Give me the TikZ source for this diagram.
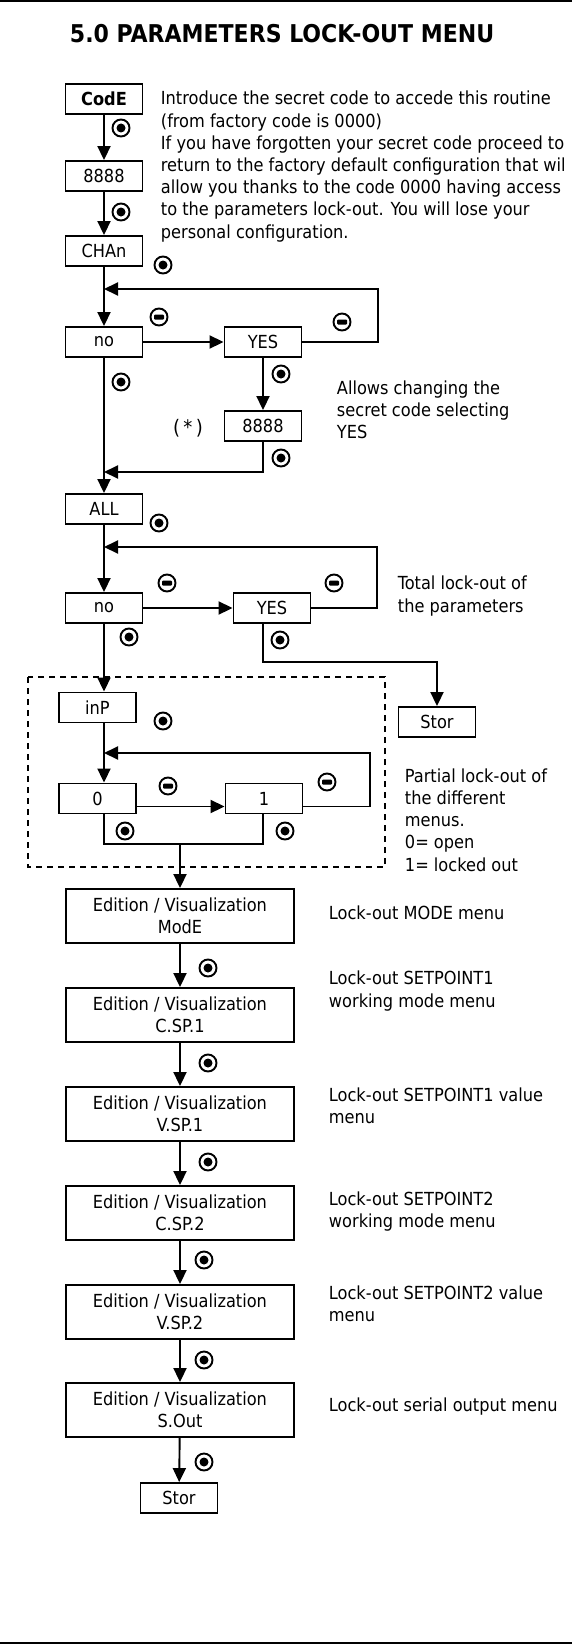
\documentclass[tikz,border=0pt]{standalone}
\usepackage{fontspec}
\setmainfont{DejaVu Sans Condensed}
\usetikzlibrary{arrows.meta}

\begin{document}
\begin{tikzpicture}[x=1pt, y=-1pt, line width=1.9pt,
    >={Triangle[length=14pt,width=13pt]},
    every node/.style={font=\fontsize{18}{22.2}\selectfont},
    menu/.style={rectangle, draw, minimum width=77pt, minimum height=30pt, inner sep=0pt},
    edit/.style={rectangle, draw, minimum width=228pt, minimum height=54pt, inner sep=0pt, align=center},
    note/.style={anchor=west, inner sep=0pt, align=left},
    okkey/.style={circle, draw, minimum size=17pt, inner sep=0pt,
      path picture={\fill (path picture bounding box.center) circle (4.5pt);}},
    esckey/.style={circle, draw, minimum size=17pt, inner sep=0pt,
      path picture={\fill[rounded corners=1pt] ([shift={(-5pt,-2.5pt)}]path picture bounding box.center) rectangle ([shift={(5pt,2.5pt)}]path picture bounding box.center);}}
    ]
\useasboundingbox (0,0) rectangle (572,1651);
\draw (0,1) -- (572,1);
\draw (0,1643) -- (572,1643);

\node[anchor=west, inner sep=0pt, font=\fontsize{24.5}{28}\selectfont\bfseries] (title) at (69,34) {5.0 PARAMETERS LOCK-OUT MENU};

\node[menu, font=\fontsize{18}{22.2}\selectfont\bfseries] (code) at (104,99) {CodE};
\node[menu] (num1) at (104,176) {8888};
\node[menu] (chan) at (104,251) {CHAn};
\node[menu] (no1) at (104,342) {no};
\node[menu] (yes1) at (263,342) {YES};
\node[menu] (num2) at (263,426) {8888};
\node[menu] (all) at (104,509) {ALL};
\node[menu] (no2) at (104,608) {no};
\node[menu] (yes2) at (272,608) {YES};
\node[menu] (stor1) at (437,722) {Stor};
\node[menu] (inp) at (97.5,707.5) {inP};
\node[menu] (zero) at (97.5,798.5) {0};
\node[menu] (one) at (264,798.5) {1};

\node[edit] (ed1) at (180,916) {Edition / Visualization\\ModE};
\node[edit] (ed2) at (180,1015) {Edition / Visualization\\C.SP.1};
\node[edit] (ed3) at (180,1114) {Edition / Visualization\\V.SP.1};
\node[edit] (ed4) at (180,1213) {Edition / Visualization\\C.SP.2};
\node[edit] (ed5) at (180,1312) {Edition / Visualization\\V.SP.2};
\node[edit] (ed6) at (180,1410) {Edition / Visualization\\S.Out};
\node[menu] (stor2) at (179,1498) {Stor};

\node[note] (intro) at (160,166.5) {Introduce the secret code to accede this routine\\(from factory code is 0000)\\If you have forgotten your secret code proceed to\\return to the factory default configuration that wil\\allow you thanks to the code 0000 having access\\to the parameters lock-out. You will lose your\\personal configuration.};
\node[font=\fontsize{20}{24}\selectfont] (star) at (188,428) {(\,*\,)};
\node[note] (allows) at (336,409.5) {Allows changing the\\secret code selecting\\YES};
\node[note] (total) at (397,596) {Total lock-out of\\the parameters};
\node[note] (partial) at (404,820) {Partial lock-out of\\the different\\menus.\\0= open\\1= locked out};
\node[note] (lab1) at (328,913) {Lock-out MODE menu};
\node[note] (lab2) at (328,991) {Lock-out SETPOINT1\\working mode menu};
\node[note] (lab3) at (328,1105.5) {Lock-out SETPOINT1 value\\menu};
\node[note] (lab4) at (328,1211.5) {Lock-out SETPOINT2\\working mode menu};
\node[note] (lab5) at (328,1303.5) {Lock-out SETPOINT2 value\\menu};
\node[note] (lab6) at (328,1407) {Lock-out serial output menu};

\node[okkey] (k1) at (121,128) {};
\node[okkey] (k2) at (121,212) {};
\node[okkey] (k3) at (163,265) {};
\node[okkey] (k4) at (121,382) {};
\node[okkey] (k5) at (281,374) {};
\node[okkey] (k6) at (281,458) {};
\node[okkey] (k7) at (159,523) {};
\node[okkey] (k8) at (129,637) {};
\node[okkey] (k9) at (280,640) {};
\node[okkey] (k10) at (163,721) {};
\node[okkey] (k11) at (125,831) {};
\node[okkey] (k12) at (285,831) {};
\node[okkey] (k13) at (208,968) {};
\node[okkey] (k14) at (208,1063) {};
\node[okkey] (k15) at (208,1162) {};
\node[okkey] (k16) at (204,1260) {};
\node[okkey] (k17) at (204,1360) {};
\node[okkey] (k18) at (204,1462) {};
\node[esckey] (e1) at (159,317) {};
\node[esckey] (e2) at (342,322) {};
\node[esckey] (e3) at (167,583) {};
\node[esckey] (e4) at (334,583) {};
\node[esckey] (e5) at (168,786) {};
\node[esckey] (e6) at (327,782) {};

\draw[dash pattern=on 6pt off 5pt] (28,677) rectangle (385,867);

\coordinate (r1) at (378,289);
\coordinate (m1) at (104,289);
\coordinate (m2) at (104,472);
\coordinate (r2) at (377,547);
\coordinate (m3) at (104,547);
\coordinate (b1) at (263,662);
\coordinate (r3) at (370,753);
\coordinate (m4) at (104,753);
\coordinate (b2) at (104,844);
\coordinate (b3) at (263,844);
\coordinate (b4) at (180,844);

\draw[->] (code) -- (num1);
\draw[->] (num1) -- (chan);
\draw[->] (chan) -- (no1);
\draw[->] (no1) -- (yes1);
\draw[->] (yes1.east) -| (r1) -- (m1);
\draw[->] (yes1) -- (num2);
\draw[->] (num2) |- (m2);
\draw[->] (no1) -- (all);
\draw[->] (all) -- (no2);
\draw[->] (no2) -- (yes2);
\draw[->] (yes2.east) -| (r2) -- (m3);
\draw[->] (yes2.south -| b1) -- (b1) -| (stor1);
\draw[->] (no2) -- (no2 |- inp.north);
\draw[->] (inp.south -| m4) -- (zero.north -| m4);
\draw[->] ([yshift=-8pt]zero.east) -- ([yshift=-8pt]one.west);
\draw[->] ([yshift=-8pt]one.east) -| (r3) -- (m4);
\draw (zero.south -| b2) -- (b2) -- (b3) -- (one.south -| b3);
\draw[->] (b4) -- (ed1);
\foreach \i/\j in {1/2,2/3,3/4,4/5,5/6}
  \draw[->] (ed\i) -- (ed\j);
\draw[->] (ed6) -- (stor2);
\end{tikzpicture}
\end{document}
